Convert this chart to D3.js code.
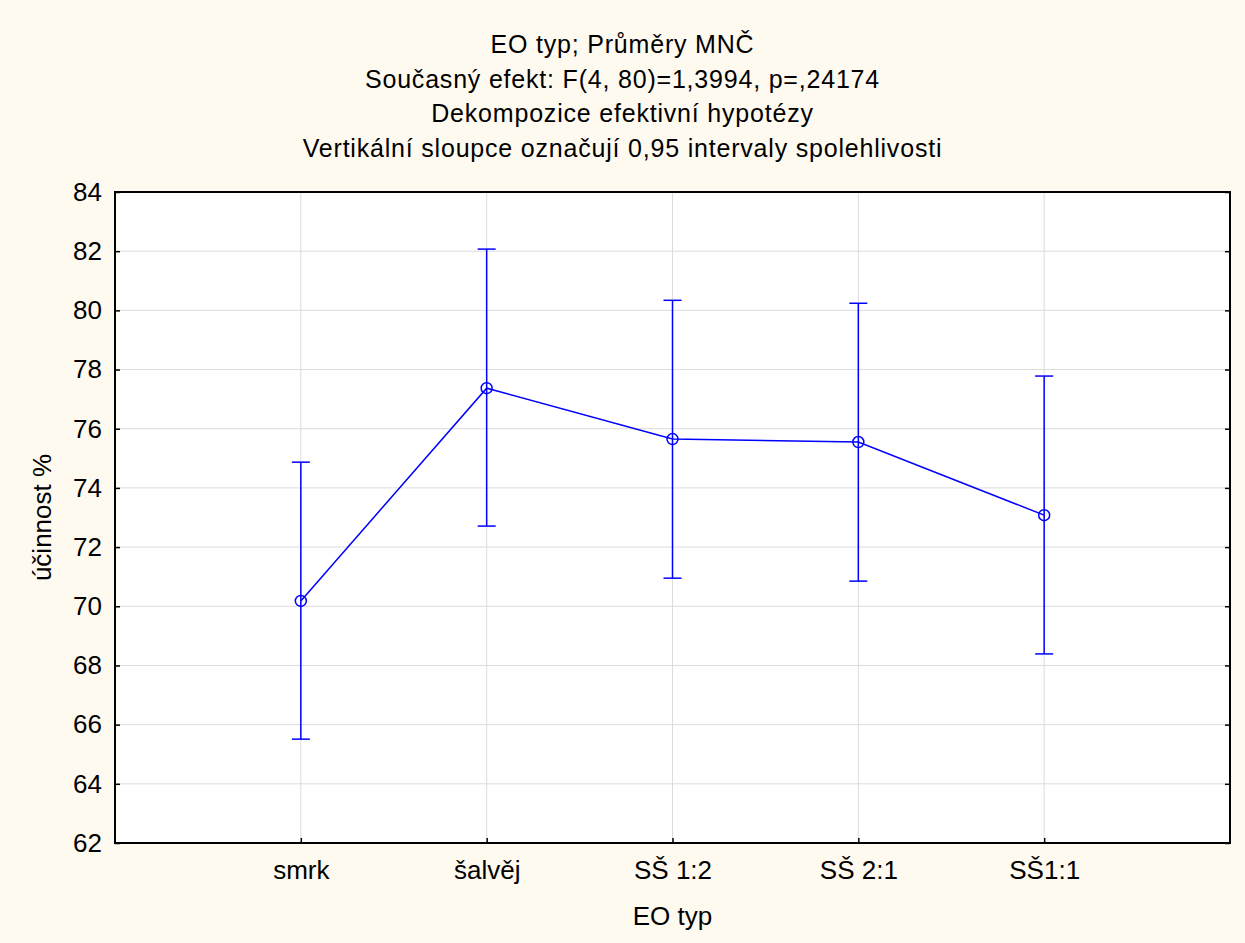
<!DOCTYPE html>
<html>
<head>
<meta charset="utf-8">
<script src="https://cdn.jsdelivr.net/npm/d3@7"></script>
<style>
  body { margin: 0; background: #fffaf0; }
  svg { display: block; }
</style>
</head>
<body>
<script>
// data
const categories = ['smrk', 'šalvěj', 'SŠ 1:2', 'SŠ 2:1', 'SŠ1:1']
const means = [70.18, 77.37, 75.65, 75.55, 73.08]
const upper = [74.87, 82.07, 80.34, 80.24, 77.78]
const lower = [65.51, 72.71, 70.95, 70.85, 68.39]
const yTicks = [62, 64, 66, 68, 70, 72, 74, 76, 78, 80, 82, 84]
const titleLines = [
  'EO typ; Průměry MNČ',
  'Současný efekt: F(4, 80)=1,3994, p=,24174',
  'Dekompozice efektivní hypotézy',
  'Vertikální sloupce označují 0,95 intervaly spolehlivosti'
]

const W = 1245, H = 943
const margin = {top: 192, right: 15, bottom: 100, left: 115}
const width = W - margin.left - margin.right,
  height = H - margin.top - margin.bottom
const font = 'Arial, "Liberation Sans", sans-serif'
const blue = '#0000ff'
const ink = '#000'

const svg = d3.select('body').append('svg')
  .attr('width', W)
  .attr('height', H)
svg.append('rect').attr('width', W).attr('height', H).attr('fill', '#fffaf0')

// titles
svg.append('g').selectAll('text').data(titleLines).enter()
  .append('text')
  .attr('x', W / 2)
  .attr('y', (d, i) => 53 + i * 34.7)
  .attr('text-anchor', 'middle')
  .style('font-family', font)
  .style('font-size', '25px')
  .style('letter-spacing', '0.8px')
  .style('fill', ink)
  .text(d => d)

const g = svg.append('g')
  .attr('transform', `translate(${margin.left}, ${margin.top})`)

g.append('rect').attr('width', width).attr('height', height).attr('fill', '#fff')

const x = d3.scalePoint()
  .domain(categories)
  .range([0, width])
  .padding(1)

const y = d3.scaleLinear()
  .domain([62, 84])
  .range([height, 0])

// grid
g.append('g').selectAll('line.h').data(yTicks.slice(1, -1)).enter()
  .append('line')
  .attr('x1', 0).attr('x2', width)
  .attr('y1', d => y(d)).attr('y2', d => y(d))
  .attr('stroke', '#dcdcdc').attr('stroke-width', 1)
g.append('g').selectAll('line.v').data(categories).enter()
  .append('line')
  .attr('y1', 0).attr('y2', height)
  .attr('x1', d => x(d)).attr('x2', d => x(d))
  .attr('stroke', '#dcdcdc').attr('stroke-width', 1)

// axes
const yAxis = g.append('g')
  .call(d3.axisLeft(y).tickValues(yTicks).tickSize(-5).tickPadding(13))
yAxis.select('.domain').remove()
yAxis.selectAll('text').style('font-family', font).style('font-size', '26px').style('fill', ink)
yAxis.selectAll('line').attr('stroke', ink).attr('stroke-width', 1.5)

const yAxisR = g.append('g')
  .attr('transform', `translate(${width}, 0)`)
  .call(d3.axisRight(y).tickValues(yTicks).tickSize(-5).tickFormat(''))
yAxisR.select('.domain').remove()
yAxisR.selectAll('line').attr('stroke', ink).attr('stroke-width', 1.5)

const xAxis = g.append('g')
  .attr('transform', `translate(0, ${height})`)
  .call(d3.axisBottom(x).tickSize(-5).tickPadding(18))
xAxis.select('.domain').remove()
xAxis.selectAll('text').style('font-family', font).style('font-size', '26px').style('fill', ink)
xAxis.selectAll('line').attr('stroke', ink).attr('stroke-width', 1.5)

// frame
g.append('rect')
  .attr('width', width).attr('height', height)
  .attr('fill', 'none').attr('stroke', ink).attr('stroke-width', 2)

// axis titles
svg.append('text')
  .attr('x', margin.left + width / 2)
  .attr('y', 925)
  .attr('text-anchor', 'middle')
  .style('font-family', font).style('font-size', '26px').style('fill', ink)
  .text('EO typ')
svg.append('text')
  .attr('transform', `translate(51, ${margin.top + height / 2}) rotate(-90)`)
  .attr('text-anchor', 'middle')
  .style('font-family', font).style('font-size', '26px').style('fill', ink)
  .text('účinnost %')

// error bars
const bars = g.append('g').selectAll('g').data(categories).enter().append('g')
bars.append('line')
  .attr('x1', d => x(d)).attr('x2', d => x(d))
  .attr('y1', (d, i) => y(upper[i])).attr('y2', (d, i) => y(lower[i]))
  .attr('stroke', blue).attr('stroke-width', 1.5)
bars.append('line')
  .attr('x1', d => x(d) - 9).attr('x2', d => x(d) + 9)
  .attr('y1', (d, i) => y(upper[i])).attr('y2', (d, i) => y(upper[i]))
  .attr('stroke', blue).attr('stroke-width', 1.5)
bars.append('line')
  .attr('x1', d => x(d) - 9).attr('x2', d => x(d) + 9)
  .attr('y1', (d, i) => y(lower[i])).attr('y2', (d, i) => y(lower[i]))
  .attr('stroke', blue).attr('stroke-width', 1.5)

// mean line
const line = d3.line()
  .x((d, i) => x(categories[i]))
  .y(d => y(d))
g.append('path')
  .datum(means)
  .attr('d', line)
  .attr('fill', 'none')
  .attr('stroke', blue).attr('stroke-width', 1.5)

g.append('g').selectAll('circle').data(means).enter()
  .append('circle')
  .attr('cx', (d, i) => x(categories[i]))
  .attr('cy', d => y(d))
  .attr('r', 5.5)
  .attr('fill', 'none')
  .attr('stroke', blue).attr('stroke-width', 1.5)
</script>
</body>
</html>
